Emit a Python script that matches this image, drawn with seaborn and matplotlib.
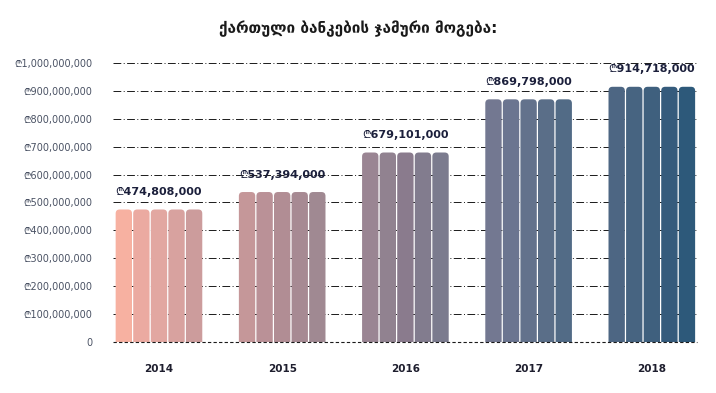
import pandas as pd
import seaborn as sns
import matplotlib.pyplot as plt
from matplotlib.patches import FancyBboxPatch
from matplotlib.ticker import FuncFormatter

# data
years = ["2014", "2015", "2016", "2017", "2018"]
profit = [474808000, 537394000, 679101000, 869798000, 914718000]
parts = [1, 2, 3, 4, 5]  # each year is drawn as 5 slim columns
title = "ქართული ბანკების ჯამური მოგება:"

# colours of the 25 columns, left to right
bar_colors = [
    "#F7B1A1", "#EBAAA1", "#E2A7A1", "#D8A29F", "#CC9C9C",
    "#C59799", "#BA9197", "#B18D94", "#A78A93", "#A08992",
    "#9A8593", "#918290", "#8A7B8D", "#827C8E", "#7B7B8E",
    "#737891", "#6B7590", "#63728C", "#5A6E88", "#526B86",
    "#4D6683", "#476481", "#3F607E", "#355B7C", "#2D597A",
]

rows = []
for yr, val in zip(years, profit):
    for p in parts:
        rows.append({"year": yr, "part": p, "profit": val})
df = pd.DataFrame(rows)

sns.set_style("white")
plt.rcParams["font.family"] = ["DejaVu Sans", "Noto Sans"]

fig = plt.figure(figsize=(7.16, 3.93), dpi=100)
ax = fig.add_axes([0.158, 0.130, 0.815, 0.7097])

sns.barplot(data=df, x="year", y="profit", hue="part", order=years,
            width=0.713, gap=0.07, legend=False, ax=ax, zorder=2)

ax.set_ylim(0, 1_000_000_000)
ax.set_xlim(-0.372, 4.364)

# swap the plain rectangles for ones with rounded tops
fig.canvas.draw()
bbox = ax.get_window_extent()
x_per_px = (ax.get_xlim()[1] - ax.get_xlim()[0]) / bbox.width
y_per_px = (ax.get_ylim()[1] - ax.get_ylim()[0]) / bbox.height
aspect = y_per_px / x_per_px
r = 4 * x_per_px

bars = sorted(ax.patches, key=lambda b: b.get_x())
for b, c in zip(bars, bar_colors):
    x, w, h = b.get_x(), b.get_width(), b.get_height()
    b.remove()
    ext = r * aspect
    rb = FancyBboxPatch((x, -ext), w, h + ext,
                        boxstyle=f"round,pad=0,rounding_size={r}",
                        mutation_aspect=aspect, facecolor=c,
                        edgecolor="none", zorder=2)
    ax.add_patch(rb)

# dash-dot gridlines behind the bars
for v in range(100_000_000, 1_000_000_001, 100_000_000):
    ax.axhline(v, color="#1a1a1a", lw=0.7, ls=(0, (8, 2.5, 1, 2.5)), zorder=1,
               clip_on=False)
ax.axhline(0, color="#1a1a1a", lw=0.8, ls=(0, (3, 2)), zorder=3, clip_on=False)

ax.set_yticks(range(0, 1_000_000_001, 100_000_000))
ax.yaxis.set_major_formatter(
    FuncFormatter(lambda v, _: "0" if v == 0 else f"₾{int(v):,}"))
ax.tick_params(axis="y", length=0, pad=15, labelsize=7, labelcolor="#4a5264")
ax.tick_params(axis="x", length=0, pad=16, labelsize=7.5, labelcolor="#1e1e2e")
for t in ax.get_xticklabels():
    t.set_fontweight("bold")

ax.set_xlabel("")
ax.set_ylabel("")
sns.despine(ax=ax, left=True, bottom=True)

for i, val in enumerate(profit):
    ax.annotate(f"₾{val:,}", (i, val), xytext=(0, 9), textcoords="offset points",
                ha="center", va="bottom", fontsize=8, fontweight="bold",
                color="#1b1f3b", annotation_clip=False, zorder=4)

fig.text(0.5, 0.928, title, ha="center", va="center", fontsize=11,
         fontweight="bold", color="#1a1a1a")

fig.savefig("out.png", dpi=100)
